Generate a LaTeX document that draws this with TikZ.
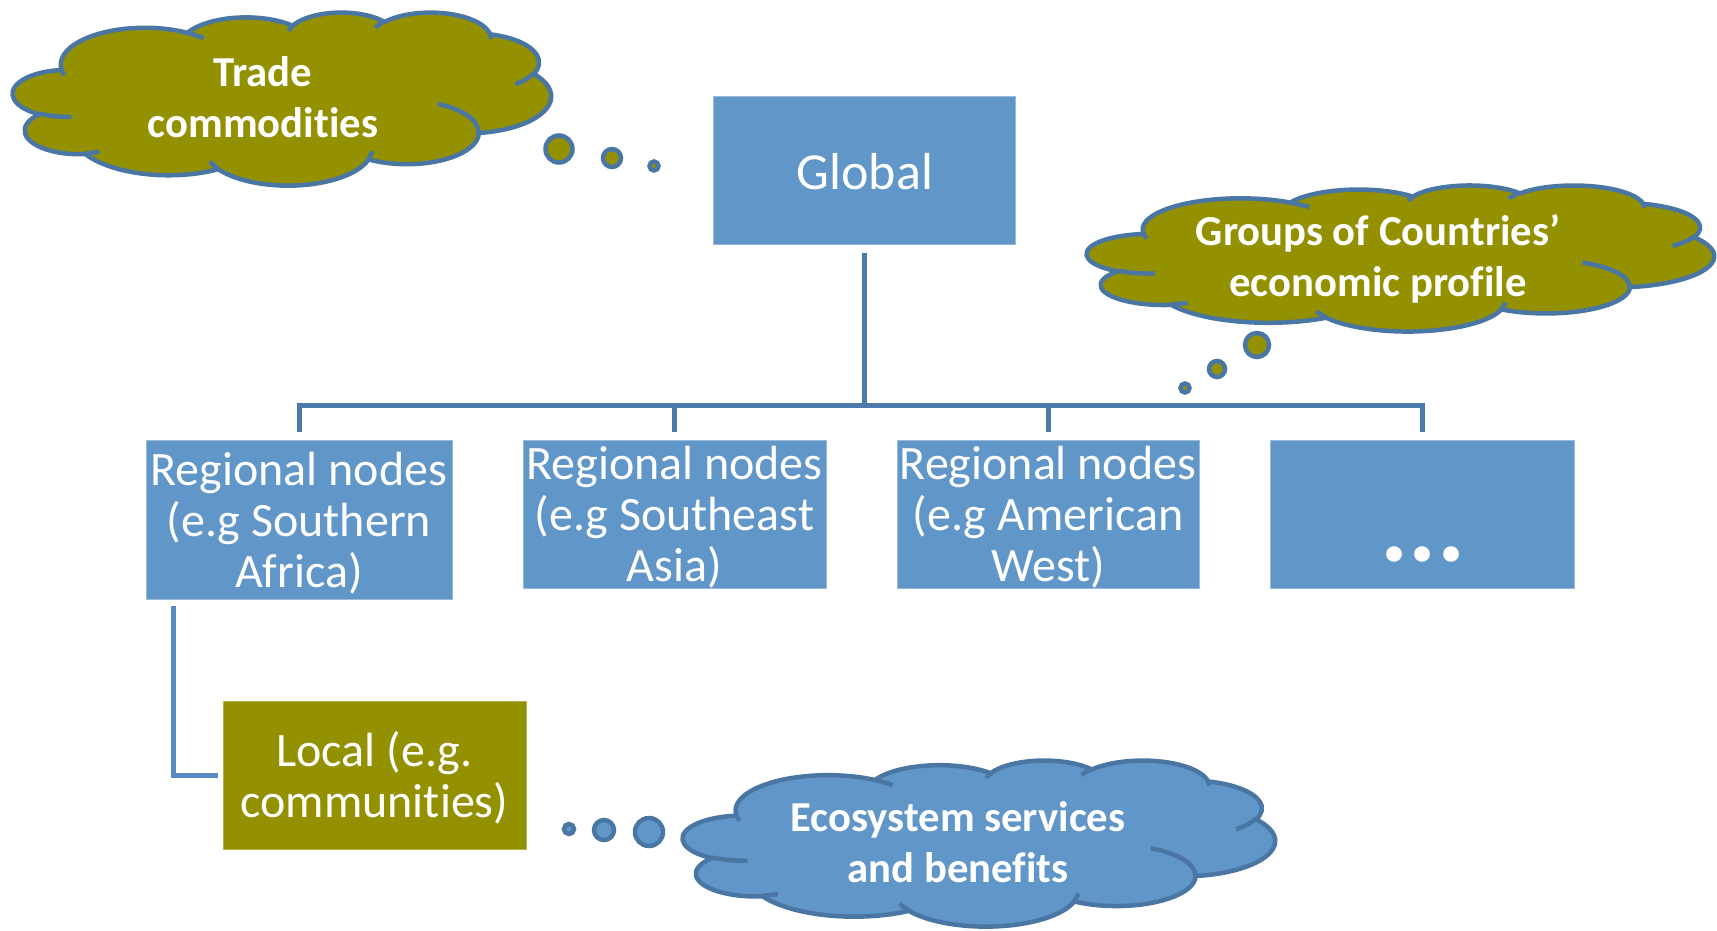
\documentclass[tikz,border=0pt]{standalone}
\usepackage{fontspec}
\setmainfont{Carlito}[Ligatures={NoCommon}]
\usetikzlibrary{calc}
\definecolor{boxblue}{RGB}{97,150,201}
\definecolor{myolive}{RGB}{148,145,0}
\definecolor{edgeblue}{RGB}{74,118,163}
\definecolor{linkblue}{RGB}{76,122,170}
\definecolor{locallink}{RGB}{88,138,196}
\newcommand{\pptcloud}[5]{%
  \begin{scope}[shift={(#1,#2)}, x=1pt, y=1pt, xscale=#3/43.2, yscale=-#4/43.2]
    \path[cloudline, fill=#5] (3.9pt,14.37pt)
      \foreach \w/\h/\s/\d in {6.753/9.19/-190.48748/123.78053, 5.333/7.267/-144.10238/89.94523,
        4.365/5.945/-145.80792/99.72302, 4.857/6.595/-130.98607/117.24173,
        5.333/7.273/-78.70888/109.02692, 6.775/9.22/-46.26725/130.269,
        5.785/7.867/0.62502/114.03333, 6.752/9.215/22.4516/115.17255,
        7.72/10.543/66.24263/75.71102, 4.36/5.918/-274.94208/146.73557,
        4.345/5.945/-246.8285/152.51885}
      { arc[start angle={atan2(\w*sin(\s),\h*cos(\s))},
            delta angle={\d+Mod(atan2(\w*sin(\s+\d),\h*cos(\s+\d))-atan2(\w*sin(\s),\h*cos(\s))-\d+180,360)-180},
            x radius=\w pt, y radius=\h pt] } -- cycle;
    \path[cloudline]
      \foreach \px/\py/\w/\h/\s/\d in {4.693/26.177/4.345/5.945/86.742/26.4295,
        6.928/34.899/4.36/5.918/73.6105/11.4475, 16.478/39.09/6.752/9.215/137.6242/14.0811,
        28.827/34.751/6.752/9.215/6.4533/15.9984, 34.129/22.954/5.785/7.867/-70.2924/70.9174,
        41.798/15.354/5.333/7.273/30.318/27.7515, 38.324/5.426/4.857/6.595/-13.7443/14.8589,
        29.078/3.952/4.857/6.595/-149.1815/18.1954, 22.141/4.72/4.365/5.945/-163.4943/17.6864,
        14.0/5.192/6.753/9.19/-66.707/12.3194, 4.127/15.789/6.753/9.19/157.6544/11.8582}
      { (\px pt,\py pt) arc[start angle={atan2(\w*sin(\s),\h*cos(\s))},
            delta angle={\d+Mod(atan2(\w*sin(\s+\d),\h*cos(\s+\d))-atan2(\w*sin(\s),\h*cos(\s))-\d+180,360)-180},
            x radius=\w pt, y radius=\h pt] };
  \end{scope}%
}
\begin{document}
\begin{tikzpicture}[x=1pt,y=-1pt,
  box/.style={fill=boxblue, draw=boxblue!65!white, line width=0.8pt, inner sep=0pt},
  boxtext/.style={text=white, align=center, inner sep=0pt, font=\fontsize{48}{51}\selectfont},
  link/.style={draw=linkblue, line width=5pt},
  cloudline/.style={draw=edgeblue, line width=4.5pt},
  cloudtext/.style={text=white, align=center, font=\bfseries\fontsize{42.7}{50.5}\selectfont},
  bubble/.style={draw=edgeblue, line width=4.5pt}
]
\useasboundingbox (0,0) rectangle (1717,930);
% boxes
\node[box, minimum width=302pt, minimum height=148pt] (G) at (864,170.5) {};
\node[boxtext, font=\fontsize{52}{56}\selectfont] (Gt) at ($(G)+(1,1.5)$) {Global};
\node[box, minimum width=306pt, minimum height=159pt] (R1) at (299,519.5) {};
\node[boxtext] (R1t) at ($(R1)+(0,3.5)$) {Regional nodes\\(e.g Southern\\Africa)};
\node[box, minimum width=303pt, minimum height=148pt] (R2) at (674.5,514) {};
\node[boxtext] (R2t) at ($(R2)+(0,3.5)$) {Regional nodes\\(e.g Southeast\\Asia)};
\node[box, minimum width=302pt, minimum height=148pt] (R3) at (1048,514) {};
\node[boxtext] (R3t) at ($(R3)+(0,3.5)$) {Regional nodes\\(e.g American\\West)};
\node[box, minimum width=304pt, minimum height=148pt] (R4) at (1422,514) {};
\node[text=white, anchor=base, font=\bfseries\fontsize{105}{110}\selectfont] (dots) at (1423,561) {...};
\node[box, fill=myolive, draw=myolive!70!white, minimum width=303pt, minimum height=148pt] (L) at (374.5,775) {};
\node[boxtext] (Lt) at ($(L)+(0,2.5)$) {Local (e.g.\\communities)};
% connectors
\coordinate (hub) at (864,405);
\draw[link] ([yshift=-8pt]G.south) -- (hub);
\draw[link] (hub) -| ([yshift=8pt]R1.north);
\draw[link] (hub) -| ([yshift=8pt]R2.north);
\draw[link] (hub) -| ([yshift=8pt]R3.north);
\draw[link] (hub) -| ([yshift=8pt]R4.north);
\coordinate (lstart) at ($(R1.south west)+(28,7)$);
\coordinate (lend) at ($(L.west)+(-5,0)$);
\draw[link, draw=locallink] (lstart) |- (lend);
% clouds
\pptcloud{13}{12}{538}{173}{myolive}
\node[cloudtext] (tc) at (263,97) {Trade\\commodities};
\pptcloud{1087}{185}{627}{146}{myolive}
\node[cloudtext] (gc) at (1378,259) {Groups of Countries’\\economic profile};
\pptcloud{683}{760}{592}{166}{boxblue}
\node[cloudtext] (es) at (958,842) {Ecosystem services\\and benefits};
% bubbles
\draw[bubble, fill=myolive] (559,149) circle[radius=13.5pt];
\draw[bubble, fill=myolive] (612,158) circle[radius=9pt];
\draw[bubble, fill=myolive] (654,166) circle[radius=4.5pt];
\draw[bubble, fill=myolive] (1257,345) circle[radius=12pt];
\draw[bubble, fill=myolive] (1217,369) circle[radius=8pt];
\draw[bubble, fill=myolive] (1185,388) circle[radius=4.5pt];
\draw[bubble, fill=boxblue] (569,829) circle[radius=5pt];
\draw[bubble, fill=boxblue] (604,830) circle[radius=10pt];
\draw[bubble, fill=boxblue] (649,832) circle[radius=14pt];
\end{tikzpicture}
\end{document}
